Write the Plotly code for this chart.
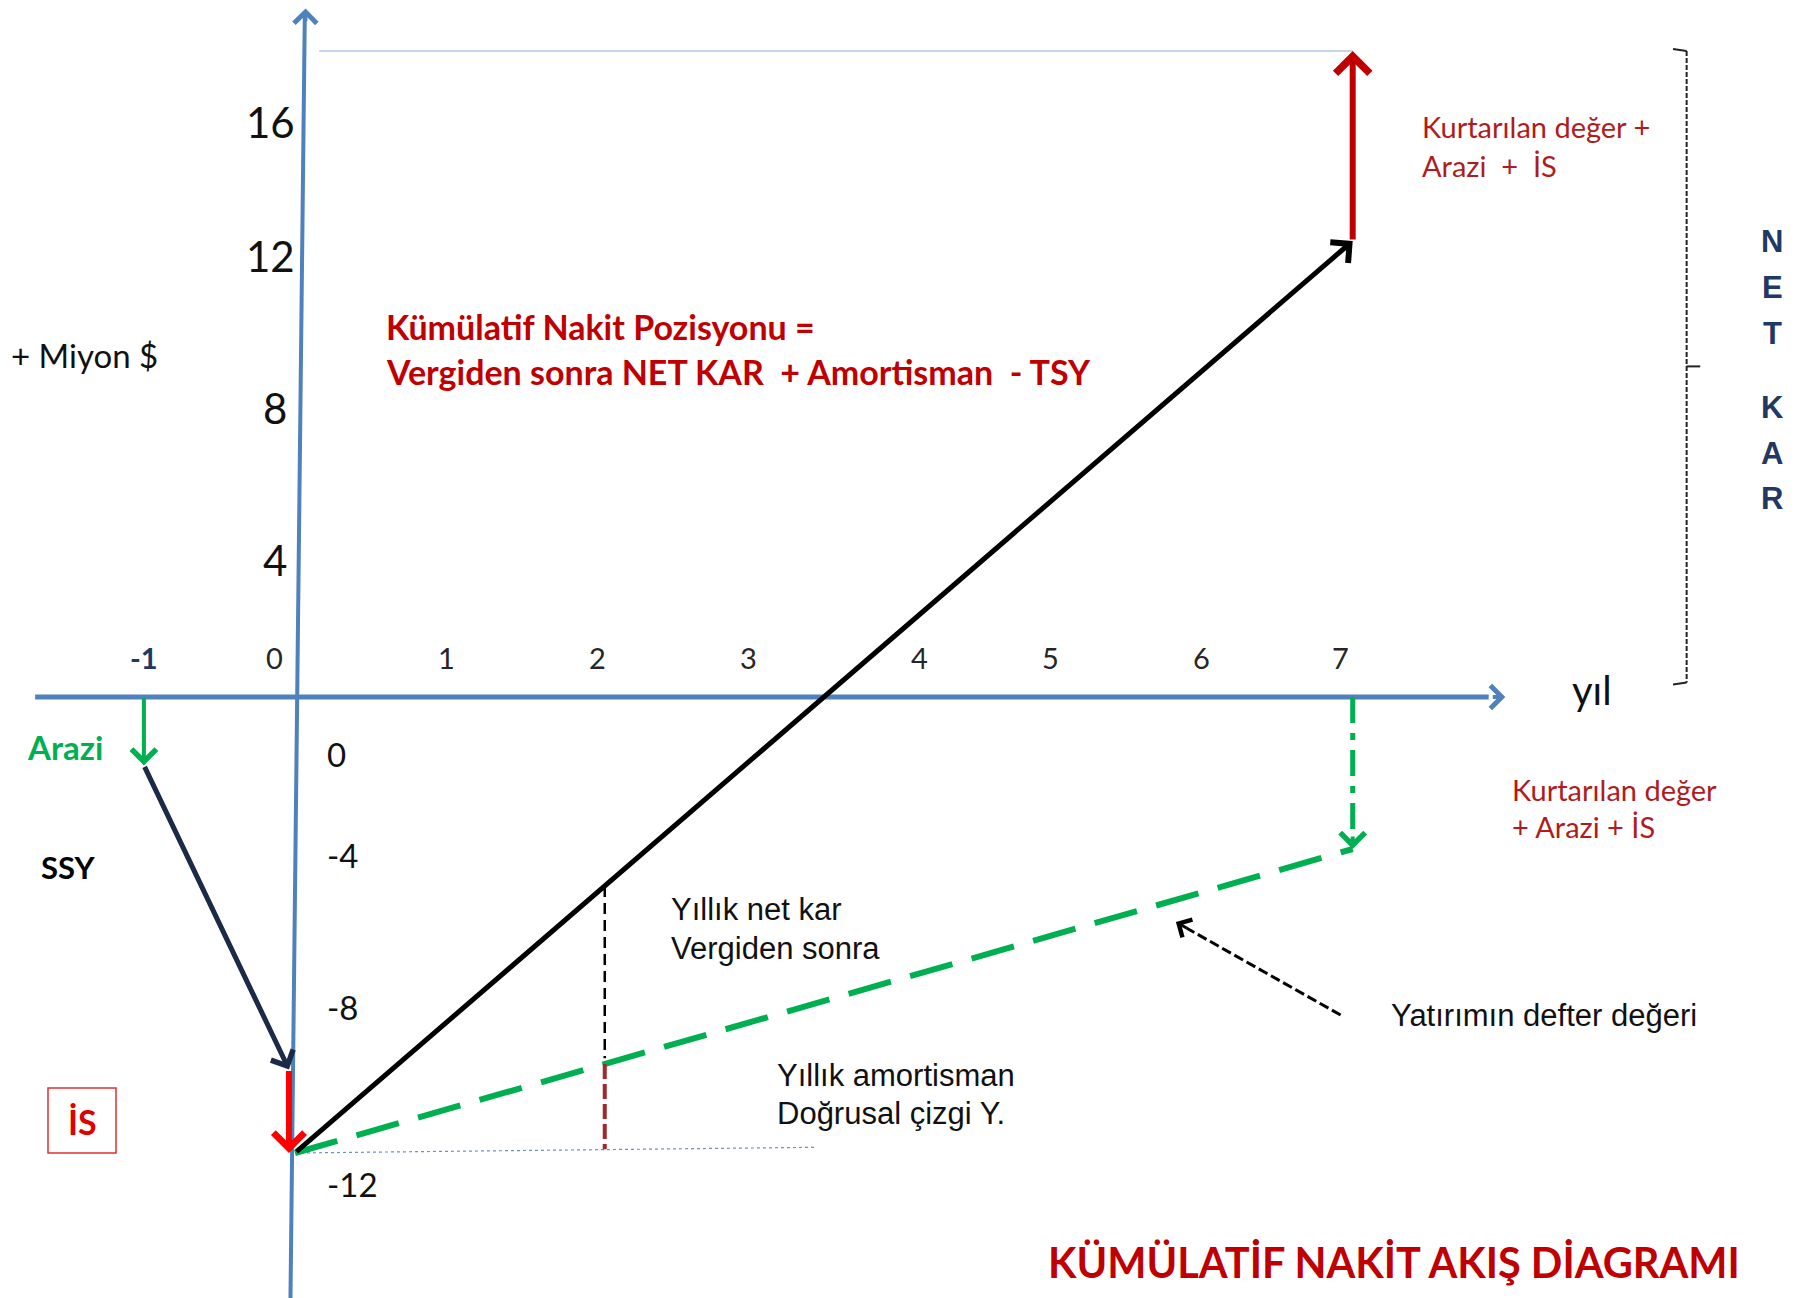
import numpy as np
import plotly.graph_objects as go

W, H = 1808, 1298

# ---------------- data (million $, years) ----------------
years = [-1, 0, 1, 2, 3, 4, 5, 6, 7]
y_ticks_pos = [4, 8, 12, 16]
y_ticks_neg = [0, -4, -8, -12]

land_year = -1
land_cum = -1.8            # Arazi
fixed_cap_cum = -9.8       # SSY
working_cap_cum = -12.0    # İS

cum_cash_years = [0, 7]
cum_cash = [-12.0, 12.0]   # Kümülatif nakit pozisyonu
salvage_top = 17.0         # + Kurtarılan değer + Arazi + İS
book_value_years = [0, 7]
book_value = [-12.0, -4.0] # Yatırımın defter değeri
example_year = 2.05

# ---------------- scale (pixels per unit) ----------------
X0_PX, X_PER = 295.0, 151.1
Y0_PX, Y_PER = 697.0, 38.0
xr = [-X0_PX / X_PER, (W - X0_PX) / X_PER]
yr = [-(H - Y0_PX) / Y_PER, Y0_PX / Y_PER]

fig = go.Figure()


def line(xs, ys, color, width, dash=None):
    fig.add_trace(go.Scatter(x=xs, y=ys, mode="lines", hoverinfo="skip",
                             line=dict(color=color, width=width, dash=dash)))


def arrow(x0, y0, x1, y1, color, width, size=1.0, head=4):
    fig.add_annotation(x=x1, y=y1, ax=x0, ay=y0, xref="x", yref="y", axref="x", ayref="y",
                       text="", showarrow=True, arrowhead=head, arrowsize=size,
                       arrowwidth=width, arrowcolor=color)


def head_only(x0, y0, x1, y1, color, width, size=1.0, head=4):
    L = np.hypot((x1 - x0) * X_PER, (y1 - y0) * Y_PER)
    f = 14.0 / L
    arrow(x1 - (x1 - x0) * f, y1 - (y1 - y0) * f, x1, y1, color, width, size, head)


def text(s, xp, yp, size, color, family="Lato", bold=False, xanchor="left", yanchor="middle"):
    fig.add_annotation(x=xp / W, y=1 - yp / H, xref="paper", yref="paper",
                       text=f"<b>{s}</b>" if bold else s, showarrow=False,
                       xanchor=xanchor, yanchor=yanchor,
                       font=dict(family=family, size=size, color=color))


AXIS = "#4F81BD"
GREEN = "#00B050"
DARKRED = "#C00000"

# ---------------- axes ----------------
line([-1.72, 7.9], [0, 0], AXIS, 5)
head_only(-1.72, 0, 8.01, 0, AXIS, 4, 1.1)
line([-0.03, 0.065], [yr[0], 18.0], AXIS, 4)
head_only(-0.03, yr[0], 0.07, 18.12, AXIS, 4, 1.1)

# thin guides
line([0.16, cum_cash_years[1]], [salvage_top, salvage_top], "#8EA9DB", 1.2)
line([0.0, 3.45], [working_cap_cum, -11.85], "#6F8FC8", 1.2, "dot")

# ---------------- initial investments ----------------
arrow(land_year, 0, land_year, land_cum, GREEN, 4, 1.2)
arrow(land_year, land_cum, -0.04, fixed_cap_cum, "#1B2A47", 5, 0.95)
arrow(-0.04, fixed_cap_cum, -0.04, working_cap_cum, "#FF0000", 6, 1.0)

# ---------------- book value (green dashed) ----------------
line(book_value_years, book_value, GREEN, 6, "44px,20px")

# ---------------- cumulative cash position ----------------
arrow(cum_cash_years[0], cum_cash[0], cum_cash_years[1], cum_cash[1], "#000000", 5, 1.05)
arrow(cum_cash_years[1], cum_cash[1], cum_cash_years[1], salvage_top, DARKRED, 6, 1.1)

# green dash-dot recovery arrow
line([7, 7], [0, book_value[1] + 0.25], GREEN, 5, "26px,10px,7px,10px")
head_only(7, 0, 7, book_value[1], GREEN, 4, 1.2)

# example year verticals
y_cum_ex = float(np.interp(example_year, cum_cash_years, cum_cash))
y_book_ex = float(np.interp(example_year, book_value_years, book_value))
line([example_year, example_year], [y_cum_ex, y_book_ex + 0.15], "#000000", 2.5, "11px,6px")
line([example_year, example_year], [y_book_ex, working_cap_cum + 0.1], "#9E2A2B", 4, "15px,5px")

# pointer arrow to book value
line([6.92, 5.9], [-8.37, -6.08], "#000000", 3, "10px,4px")
head_only(6.92, -8.37, 5.83, -5.92, "#000000", 3, 1.3)

# NET KAR bracket
bx = 9.21
line([bx, bx], [salvage_top, 0.38], "#222222", 2, "5px,2px")
line([bx - 0.09, bx], [salvage_top + 0.05, salvage_top], "#222222", 2)
line([bx - 0.09, bx], [0.33, 0.38], "#222222", 2)
line([bx, bx + 0.09], [8.7, 8.7], "#222222", 2)

# ---------------- tick labels ----------------
for v in years:
    fig.add_annotation(x=v, y=0, xref="x", yref="y", showarrow=False,
                       text=f"<b>{v}</b>" if v < 0 else str(v),
                       xanchor="right" if v == 0 else "center", yanchor="middle",
                       xshift=-10 if v == 0 else (20 if v == 4 else (-12 if v == 7 else 0)),
                       yshift=40,
                       font=dict(family="Lato", size=29,
                                 color="#1F3864" if v < 0 else "#262626"))
for v in y_ticks_pos:
    fig.add_annotation(x=0, y=v, xref="x", yref="y", showarrow=False, text=str(v),
                       xanchor="right", yanchor="middle", xshift=2 if v >= 12 else -6,
                       yshift=-33 if v == 16 else -15,
                       font=dict(family="Lato", size=42, color="#111111"))
for v in y_ticks_neg:
    fig.add_annotation(x=0, y=v, xref="x", yref="y", showarrow=False, text=str(v),
                       xanchor="left", yanchor="middle", xshift=30,
                       yshift=-57 if v == 0 else (-31 if v == -12 else -6),
                       font=dict(family="Lato", size=33, color="#111111"))

# ---------------- texts ----------------
text("+ Miyon $", 9, 355, 33, "#111111")
text("Kümülatif Nakit Pozisyonu =", 384, 326, 34, DARKRED, bold=True)
text("Vergiden sonra NET KAR  + Amortisman  - TSY", 384, 371, 34, DARKRED, bold=True)
text("Kurtarılan değer +", 1420, 127, 29, "#B01C1C")
text("Arazi  +  İS", 1420, 165, 29, "#B01C1C")
text("Kurtarılan değer", 1510, 789, 29, "#B01C1C")
text("+ Arazi + İS", 1510, 826, 29, "#B01C1C")
text("Arazi", 25, 747, 33, GREEN, bold=True)
text("SSY", 39, 867, 31, "#000000", bold=True)
text("İS", 82, 1121, 34, "#E00000", bold=True, xanchor="center")
fig.add_shape(type="rect", xref="paper", yref="paper",
              x0=48 / W, x1=116 / W, y0=1 - 1153 / H, y1=1 - 1088 / H,
              line=dict(color="#E03030", width=1.5))
text("Yıllık net kar", 669, 909, 31, "#111111", family="Liberation Sans")
text("Vergiden sonra", 669, 948, 31, "#111111", family="Liberation Sans")
text("Yıllık amortisman", 775, 1075, 31, "#111111", family="Liberation Sans")
text("Doğrusal çizgi Y.", 775, 1113, 31, "#111111", family="Liberation Sans")
text("Yatırımın defter değeri", 1389, 1015, 31, "#111111", family="Liberation Sans")
text("yıl", 1570, 690, 40, "#111111")
text("KÜMÜLATİF NAKİT AKIŞ DİAGRAMI", 1046, 1262, 41.5, DARKRED, bold=True)

for i, ch in enumerate("NET"):
    text(ch, 1772, 241 + 46 * i, 31, "#1F3864", family="Liberation Sans", bold=True, xanchor="center")
for i, ch in enumerate("KAR"):
    text(ch, 1772, 407 + 46 * i, 31, "#1F3864", family="Liberation Sans", bold=True, xanchor="center")

fig.update_layout(
    width=W, height=H, autosize=False,
    margin=dict(l=0, r=0, t=0, b=0),
    paper_bgcolor="white", plot_bgcolor="white",
    showlegend=False,
    xaxis=dict(range=xr, visible=False, fixedrange=True),
    yaxis=dict(range=yr, visible=False, fixedrange=True),
)

fig.write_html("out.html", config={"displayModeBar": False},
               post_script="document.body.style.margin='0px';")
